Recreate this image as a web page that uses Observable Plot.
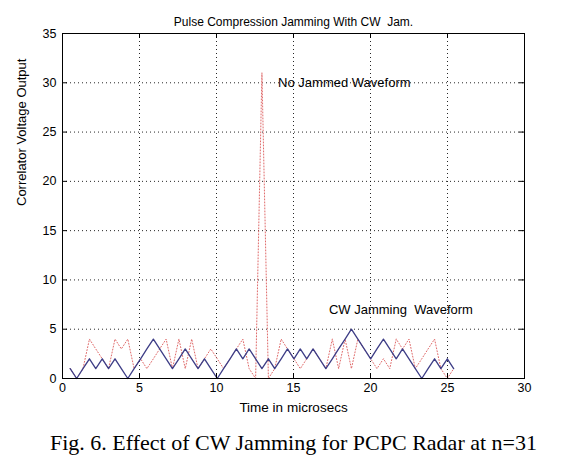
<!DOCTYPE html>
<html>
<head>
<meta charset="utf-8">
<script src="https://cdn.jsdelivr.net/npm/d3@7"></script>
<script src="https://cdn.jsdelivr.net/npm/@observablehq/plot@0.6"></script>
<style>
  html, body { margin: 0; padding: 0; background: #fff; }
  svg text { white-space: pre; }
</style>
</head>
<body>
<div id="chart"></div>
<script>
// Time axis (microseconds) of each correlator output sample
const times = [0.50,0.92,1.33,1.75,2.16,2.58,2.99,3.41,3.82,4.24,4.65,5.07,5.48,5.90,6.31,6.73,7.14,7.56,7.97,8.39,
  8.80,9.22,9.63,10.05,10.46,10.88,11.29,11.71,12.12,12.54,12.95,13.37,13.78,14.20,14.61,15.03,15.44,15.86,16.27,16.69,
  17.10,17.52,17.93,18.35,18.76,19.18,19.59,20.01,20.42,20.84,21.25,21.67,22.08,22.50,22.91,23.33,23.74,24.16,24.57,24.99,25.40];
// CW jamming waveform (solid)
const cwJam = [1,0,1,2,1,2,1,2,1,0,1,2,3,4,3,2,1,2,3,2,1,2,1,0,1,2,3,2,3,2,1,2,1,2,3,2,3,2,3,2,1,2,3,4,5,4,3,2,3,4,3,2,3,2,1,0,1,2,1,2,1];
// No jammed waveform (dotted)
const noJam = [1,0,1,4,3,2,1,4,3,4,1,2,1,2,3,4,1,4,1,4,1,2,3,2,1,2,3,4,1,0,31,0,1,4,3,2,1,2,3,2,1,4,1,4,1,4,3,2,1,2,1,4,3,4,1,2,3,4,1,0,1];
const xTicks = [0,5,10,15,20,25,30];
const yTicks = [0,5,10,15,20,25,30,35];
const titleText = "Pulse Compression Jamming With CW  Jam.";
const xLabel = "Time in microsecs";
const yLabel = "Correlator Voltage Output";
const noJamLabel = "No Jammed Waveform";
const cwLabel = "CW Jamming  Waveform";
const captionText = "Fig. 6. Effect of CW Jamming for PCPC Radar at n=31";

const data = times.map((t, i) => ({t, cw: cwJam[i], nj: noJam[i]}));
const grid = {stroke: "#000", strokeOpacity: 0.85, strokeWidth: 1, strokeDasharray: "1,3"};

const chart = Plot.plot({
  width: 576,
  height: 465,
  marginTop: 33,
  marginBottom: 87,
  marginLeft: 62,
  marginRight: 52,
  style: {fontFamily: "'Liberation Sans', Arial, sans-serif", fontSize: "12px", background: "#fff", color: "#000"},
  x: {domain: [0, 30], ticks: xTicks},
  y: {domain: [0, 35], ticks: yTicks},
  marks: [
    Plot.gridX(xTicks, grid),
    Plot.gridY(yTicks, grid),
    Plot.line(data, {x: "t", y: "nj", stroke: "#e06a6a", strokeWidth: 1, strokeDasharray: "1,2"}),
    Plot.line(data, {x: "t", y: "cw", stroke: "#3d3d86", strokeWidth: 1.3}),
    Plot.frame({stroke: "#000"}),
    Plot.tickX(xTicks, {x: d => d, insetTop: 340, stroke: "#000"}),
    Plot.tickX(xTicks, {x: d => d, insetBottom: 340, stroke: "#000"}),
    Plot.tickY(yTicks, {y: d => d, insetRight: 457, stroke: "#000"}),
    Plot.tickY(yTicks, {y: d => d, insetLeft: 457, stroke: "#000"}),
    Plot.axisX(xTicks, {tickSize: 0, tickPadding: 5, label: null, fontSize: 12.5}),
    Plot.axisY(yTicks, {tickSize: 0, tickPadding: 6, label: null, fontSize: 12.5}),
    Plot.text([titleText], {frameAnchor: "top", dy: -16, fontSize: 12}),
    Plot.text([xLabel], {frameAnchor: "bottom", dy: 33, fontSize: 13.5}),
    Plot.text([yLabel], {frameAnchor: "left", dx: -41, rotate: -90, fontSize: 13}),
    Plot.text([noJamLabel], {x: 14.0, y: 30, textAnchor: "start", fontSize: 13}),
    Plot.text([cwLabel], {x: 17.3, y: 7, textAnchor: "start", fontSize: 13}),
    Plot.text([captionText], {frameAnchor: "bottom", dy: 71, fontSize: 22, fontFamily: "'Liberation Serif', 'Times New Roman', serif"})
  ]
});
document.getElementById("chart").appendChild(chart);
</script>
</body>
</html>
